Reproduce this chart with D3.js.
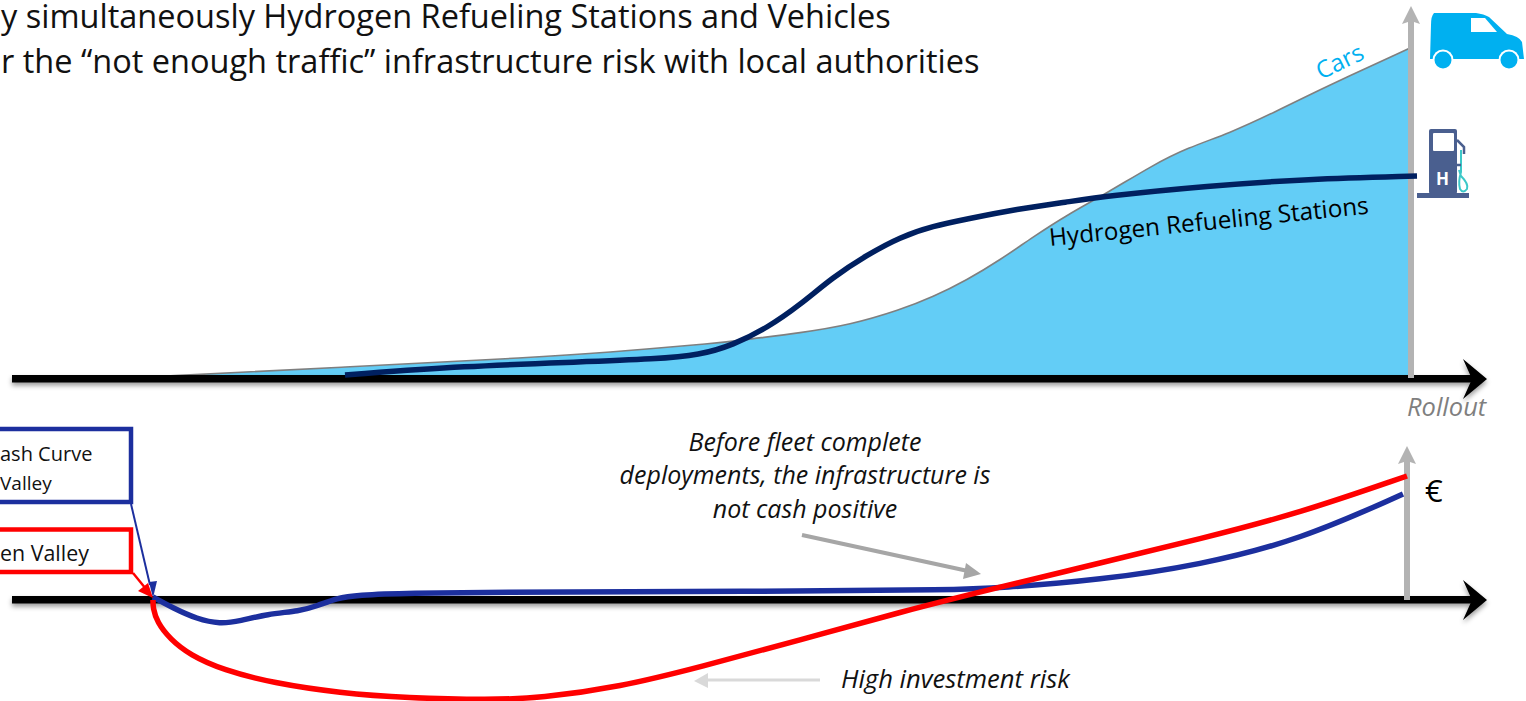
<!DOCTYPE html>
<html>
<head>
<meta charset="utf-8">
<script src="https://cdn.jsdelivr.net/npm/d3@7"></script>
<style>
  html, body { margin: 0; padding: 0; background: #fff; overflow: hidden; }
  svg { display: block; font-family: "Open Sans", sans-serif; }
</style>
</head>
<body>
<svg width="1526" height="701"></svg>
<script>
// top chart, rollout position against level
const carsX = [147, 346, 541, 600, 720, 750, 800, 850, 900, 933, 967, 1000, 1033, 1067, 1107, 1153, 1187, 1230, 1273, 1323, 1410];
const carsY = [1, 11, 21, 25, 35, 39, 45, 53, 68, 81, 98, 118, 141, 163, 185, 213, 230, 245, 265, 290, 330];
const stationsX = [345, 465, 580, 656, 700, 733, 767, 800, 833, 867, 900, 933, 967, 1017, 1067, 1107, 1207, 1307, 1417];
const stationsY = [3, 12, 16, 19, 23, 33, 50, 73, 101, 123, 141, 152, 159, 169, 176, 182, 192, 199, 202];

// bottom chart, rollout position against cash
const blueX = [153, 173, 197, 220, 240, 267, 300, 317, 337, 357, 407, 507, 620, 800, 950, 1000, 1100, 1200, 1300, 1403];
const blueY = [3, -8, -19, -24, -21, -14, -11, -6, 2, 5, 7, 8, 8, 9, 10, 12, 20, 35, 60, 106];
const redX = [153, 153, 157, 170, 190, 223, 273, 340, 407, 490, 540, 620, 700, 800, 900, 1000, 1100, 1200, 1300, 1407];
const redY = [0, -8, -22, -39, -55, -70, -83, -93, -98, -100, -98, -87, -67, -40, -12, 13, 37, 61, 87, 124];

const titleLines = ["y simultaneously Hydrogen Refueling Stations and Vehicles",
  "r the “not enough traffic” infrastructure risk with local authorities"];
const noteLines = ["Before fleet complete", "deployments, the infrastructure is", "not cash positive"];

const svg = d3.select("svg");
const x = d3.scaleLinear().domain([0, 1526]).range([0, 1526]);
const yTop = d3.scaleLinear().domain([0, 330]).range([378, 48]);
const yBottom = d3.scaleLinear().domain([-100, 124]).range([700, 476]);

const defs = svg.append("defs");
const shadow = defs.append("filter").attr("id", "shadow")
  .attr("x", "-2%").attr("y", "-50%").attr("width", "104%").attr("height", "220%");
shadow.append("feDropShadow").attr("dx", 0).attr("dy", 3).attr("stdDeviation", 2.5)
  .attr("flood-color", "#000").attr("flood-opacity", 0.4);

const pairs = (xs, ys) => xs.map((d, i) => [d, ys[i]]);
const curve = d3.curveBasis;

// cars area
svg.append("path")
  .datum(pairs(carsX, carsY))
  .attr("fill", "#63CDF6")
  .attr("d", d3.area().x(d => x(d[0])).y0(yTop(0)).y1(d => yTop(d[1])).curve(curve));
svg.append("path")
  .datum(pairs(carsX, carsY))
  .attr("fill", "none").attr("stroke", "#7F7F7F").attr("stroke-width", 1.6)
  .attr("d", d3.line().x(d => x(d[0])).y(d => yTop(d[1])).curve(curve));

// gray vertical arrows
function grayArrow(px, y0, tip) {
  svg.append("rect").attr("x", px - 3).attr("y", tip + 15).attr("width", 6).attr("height", y0 - tip - 15).attr("fill", "#B3B3B3");
  svg.append("path").attr("fill", "#B3B3B3")
    .attr("d", `M${px},${tip}L${px + 9},${tip + 18}L${px},${tip + 15}L${px - 9},${tip + 18}Z`);
}

// black axes with arrow heads
function blackAxis(py) {
  const g = svg.append("g").attr("filter", "url(#shadow)");
  g.append("rect").attr("x", 12).attr("y", py - 4).attr("width", 1462).attr("height", 7.5).attr("fill", "#000");
  g.append("path").attr("fill", "#000")
    .attr("d", `M1487,${py}L1463,${py - 20}L1472,${py}L1463,${py + 20}Z`);
}

blackAxis(yTop(0) + 1);
grayArrow(x(1411), yTop(0), 6);

svg.append("path")
  .datum(pairs(stationsX, stationsY))
  .attr("fill", "none").attr("stroke", "#002060").attr("stroke-width", 5.5)
  .attr("d", d3.line().x(d => x(d[0])).y(d => yTop(d[1])).curve(curve));

svg.append("text").text("Hydrogen Refueling Stations")
  .attr("transform", "translate(1050,246) rotate(-5.8)")
  .attr("font-size", 24.3).attr("fill", "#000");
svg.append("text").text("Cars")
  .attr("transform", "translate(1321,80) rotate(-26)")
  .attr("font-size", 24).attr("fill", "#00B0F0");
svg.append("text").text("Rollout")
  .attr("x", 1407).attr("y", 416)
  .attr("font-size", 25.5).attr("font-style", "italic").attr("fill", "#7F7F7F");

// title
svg.selectAll(".title").data(titleLines).enter().append("text")
  .attr("class", "title").text(d => d)
  .attr("x", 1)
  .attr("y", (d, i) => 28 + i * 45)
  .attr("font-size", 32.5).attr("fill", "#111");

// van icon
const van = svg.append("g");
van.append("path").attr("fill", "#00B0F0")
  .attr("d", "M1430,59L1431,25Q1431,16 1434,13L1476,13Q1484,14 1489,17L1507,34Q1519,36 1522,42L1524,59Z");
van.append("path").attr("fill", "#fff").attr("d", "M1471,18L1485,18L1497,32L1471,32Z");
[1443, 1509].forEach(c => {
  van.append("circle").attr("cx", c).attr("cy", 60).attr("r", 10.5).attr("fill", "#fff");
  van.append("circle").attr("cx", c).attr("cy", 60).attr("r", 8.5).attr("fill", "#00B0F0");
});

// pump icon
const pump = svg.append("g");
pump.append("rect").attr("x", 1417).attr("y", 193).attr("width", 52).attr("height", 5).attr("fill", "#4A5F8F");
pump.append("rect").attr("x", 1429).attr("y", 129).attr("width", 28).attr("height", 65).attr("rx", 2).attr("fill", "#4A5F8F");
pump.append("rect").attr("x", 1433).attr("y", 133).attr("width", 21).attr("height", 18).attr("rx", 1).attr("fill", "#fff");
pump.append("text").text("H").attr("x", 1442.5).attr("y", 185).attr("text-anchor", "middle")
  .attr("font-size", 17).attr("font-weight", 700).attr("fill", "#fff");
pump.append("path").attr("fill", "none").attr("stroke", "#3CC8C8").attr("stroke-width", 2)
  .attr("d", "M1459,170L1461,176Q1469,184 1467,189Q1463,194 1460,189Q1458,182 1461,172L1461,150");
pump.append("path").attr("fill", "none").attr("stroke", "#4A5F8F").attr("stroke-width", 2.5)
  .attr("d", "M1457,140L1464,147L1464,154M1457,165L1461,165");

// bottom chart
blackAxis(yBottom(0));
grayArrow(x(1407), yBottom(0), 446);

svg.append("path")
  .datum(pairs(blueX, blueY))
  .attr("fill", "none").attr("stroke", "#1C2F9E").attr("stroke-width", 5.5)
  .attr("d", d3.line().x(d => x(d[0])).y(d => yBottom(d[1])).curve(curve));
svg.append("path")
  .datum(pairs(redX, redY))
  .attr("fill", "none").attr("stroke", "#FF0000").attr("stroke-width", 5.5)
  .attr("d", d3.line().x(d => x(d[0])).y(d => yBottom(d[1])).curve(curve));

// clipped label boxes
svg.append("rect").attr("x", -20).attr("y", 429).attr("width", 151).attr("height", 73)
  .attr("fill", "none").attr("stroke", "#1C2F9E").attr("stroke-width", 4.5);
svg.append("rect").attr("x", -20).attr("y", 529.5).attr("width", 151).attr("height", 42.5)
  .attr("fill", "none").attr("stroke", "#FF0000").attr("stroke-width", 4.5);
svg.append("text").text("ash Curve").attr("x", 0).attr("y", 461).attr("font-size", 20).attr("fill", "#111");
svg.append("text").text("Valley").attr("x", 0).attr("y", 490).attr("font-size", 19).attr("fill", "#111");
svg.append("text").text("en Valley").attr("x", 0).attr("y", 561).attr("font-size", 21.4).attr("fill", "#111");

// connectors into the origin of the valley
svg.append("line").attr("x1", 131).attr("y1", 504).attr("x2", 150).attr("y2", 585)
  .attr("stroke", "#1C2F9E").attr("stroke-width", 2);
svg.append("path").attr("fill", "#1C2F9E").attr("d", "M153,598L149,582L157,581Z");
svg.append("line").attr("x1", 133).attr("y1", 573).attr("x2", 146).attr("y2", 589)
  .attr("stroke", "#FF0000").attr("stroke-width", 2.5);
svg.append("path").attr("fill", "#FF0000").attr("d", "M153,598L138,591L148,583Z");

// notes
svg.selectAll(".note").data(noteLines).enter().append("text")
  .attr("class", "note").text(d => d)
  .attr("x", 805).attr("y", (d, i) => 451 + i * 33.3)
  .attr("text-anchor", "middle").attr("font-size", 25).attr("font-style", "italic").attr("fill", "#111");
svg.append("line").attr("x1", 802).attr("y1", 535).attr("x2", 968).attr("y2", 571)
  .attr("stroke", "#A6A6A6").attr("stroke-width", 4);
svg.append("path").attr("fill", "#A6A6A6").attr("d", "M981,574L963,579L966,563Z");

svg.append("text").text("High investment risk")
  .attr("x", 841).attr("y", 688).attr("font-size", 25.6).attr("font-style", "italic").attr("fill", "#111");
svg.append("line").attr("x1", 820).attr("y1", 680).attr("x2", 706).attr("y2", 680)
  .attr("stroke", "#D9D9D9").attr("stroke-width", 3);
svg.append("path").attr("fill", "#D9D9D9").attr("d", "M694,681L708,673L708,688Z");

svg.append("text").text("€").attr("x", 1425).attr("y", 502).attr("font-size", 31).attr("fill", "#000");
</script>
</body>
</html>
